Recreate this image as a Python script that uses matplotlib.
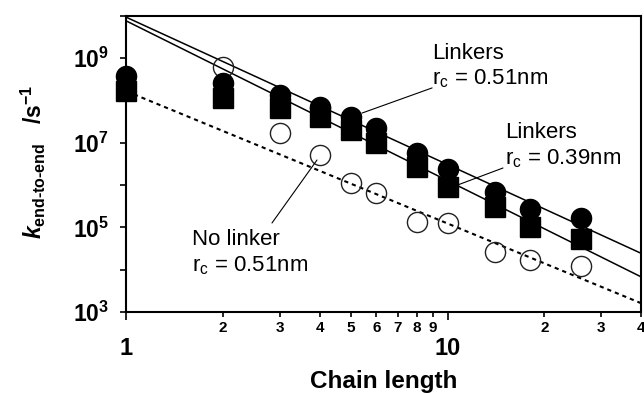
import matplotlib
matplotlib.use('Agg')
import matplotlib.pyplot as plt
import numpy as np

# ---------------- data ----------------
chain_length = [1, 2, 3, 4, 5, 6, 8, 10, 14, 18, 26]
k_linkers_051 = [3.8e8, 2.6e8, 1.35e8, 7.0e7, 4.1e7, 2.3e7, 5.7e6, 2.4e6, 6.9e5, 2.7e5, 1.66e5]
k_linkers_039 = [1.7e8, 1.15e8, 6.6e7, 4.1e7, 2.0e7, 1.0e7, 2.7e6, 9.0e5, 3.0e5, 1.0e5, 5.4e4]
k_no_linker = [np.nan, 6.2e8, 1.7e7, 5.2e6, 1.1e6, 6.5e5, 1.35e5, 1.27e5, 2.6e4, 1.7e4, 1.2e4]

fit_x = [1, 40]
fit_linkers_051 = [9.3e9, 2.45e4]
fit_linkers_039 = [7.6e9, 6.8e3]
fit_no_linker = [1.66e8, 1.62e3]

x_major = [1, 10]
x_major_labels = ['1', '10']
x_minor = [2, 3, 4, 5, 6, 7, 8, 9, 20, 30, 40]
x_minor_labels = ['2', '3', '4', '5', '6', '7', '8', '9', '2', '3', '4']
y_ticks = [1e3, 1e4, 1e5, 1e6, 1e7, 1e8, 1e9, 1e10]
y_tick_labels = [r'$\mathregular{10^{3}}$', '', r'$\mathregular{10^{5}}$', '',
                 r'$\mathregular{10^{7}}$', '', r'$\mathregular{10^{9}}$', '']

# ---------------- style ----------------
plt.rcParams['font.family'] = ['Liberation Sans', 'DejaVu Sans']
plt.rcParams['mathtext.fontset'] = 'custom'
plt.rcParams['mathtext.rm'] = 'Liberation Sans:bold'
plt.rcParams['mathtext.it'] = 'Liberation Sans:italic:bold'
plt.rcParams['mathtext.bf'] = 'Liberation Sans:bold'

fig = plt.figure(figsize=(6.44, 3.93), dpi=100)
ax = fig.add_axes([0.1964, 0.2061, 0.7989, 0.7532])
ax.set_xscale('log')
ax.set_yscale('log')
ax.set_xlim(1, 40)
ax.set_ylim(1e3, 1e10)

ax.plot(fit_x, fit_no_linker, color='black', lw=1.5, ls=(0, (2, 1.9)), zorder=2)
ax.plot(fit_x, fit_linkers_051, color='black', lw=1.1, zorder=2)
ax.plot(fit_x, fit_linkers_039, color='black', lw=1.1, zorder=2)

ax.plot(chain_length, k_no_linker, 'o', ms=14.5, mfc='none', mec='#222222', mew=1.0,
        zorder=3, clip_on=False)
ax.plot(chain_length, k_linkers_039, 's', ms=14.5, color='black', zorder=4, clip_on=False)
ax.plot(chain_length, k_linkers_051, 'o', ms=14.5, color='black', zorder=4, clip_on=False)

for s in ax.spines.values():
    s.set_linewidth(1.5)

ax.set_xticks(x_major, x_major_labels)
ax.set_xticks(x_minor, x_minor_labels, minor=True)
ax.set_yticks(y_ticks, y_tick_labels)
ax.yaxis.set_minor_locator(matplotlib.ticker.NullLocator())

ax.tick_params(axis='x', which='major', direction='out', length=5.5, width=1.2,
               pad=12.5, labelsize=17)
ax.tick_params(axis='x', which='minor', direction='out', length=3.5, width=1.2,
               pad=3, labelsize=11)
ax.tick_params(axis='y', which='major', direction='out', length=4.5, width=1.2,
               pad=8, labelsize=16.5)
for lab in ax.get_xticklabels(minor=False) + ax.get_xticklabels(minor=True) + ax.get_yticklabels():
    lab.set_fontweight('bold')

ax.set_xlabel('Chain length', fontsize=17.5, fontweight='bold', labelpad=0)
ax.xaxis.set_label_coords(0.5, -0.195)
ax.xaxis.label.set_verticalalignment('top')

hy = '\u2010'
ylab = r'$k_{\mathrm{end' + hy + 'to' + hy + r'end}}$   /s$^{\mathrm{-1}}$'
fig.text(33 / 644, 1 - 162 / 393, ylab,
         rotation=90, ha='center', va='center', fontsize=16.5, fontweight='bold')

# ---------------- annotations ----------------
tkw = dict(transform=ax.transAxes, fontsize=16, ha='left', va='baseline', color='black')
ax.text(0.594, 0.855, 'Linkers', **tkw)
ax.text(0.594, 0.770, r'r$_{\mathregular{c}}$ = 0.51nm', **tkw)
ax.text(0.7357, 0.588, 'Linkers', **tkw)
ax.text(0.7357, 0.500, r'r$_{\mathregular{c}}$ = 0.39nm', **tkw)
ax.text(0.1273, 0.2264, 'No linker', **tkw)
ax.text(0.1273, 0.1385, r'r$_{\mathregular{c}}$ = 0.51nm', **tkw)

lkw = dict(xycoords='axes fraction', textcoords='axes fraction',
           arrowprops=dict(arrowstyle='-', lw=0.8, color='black', shrinkA=0, shrinkB=0))
ax.annotate('', xy=(0.4577, 0.672), xytext=(0.594, 0.757), **lkw)
ax.annotate('', xy=(0.6385, 0.4257), xytext=(0.7318, 0.4865), **lkw)
ax.annotate('', xy=(0.3703, 0.5135), xytext=(0.2828, 0.3007), **lkw)

fig.savefig('out.png', dpi=100)
